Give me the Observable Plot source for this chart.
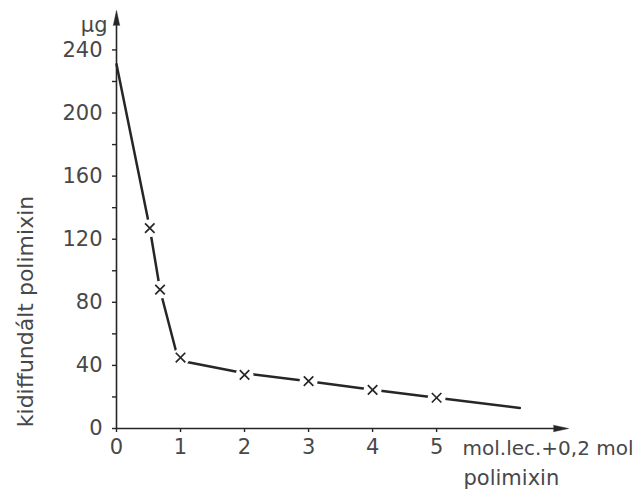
<!DOCTYPE html>
<html><head><meta charset="utf-8">
<script src="https://cdn.jsdelivr.net/npm/d3@7"></script>
<script src="https://cdn.jsdelivr.net/npm/@observablehq/plot@0.6"></script>
<style>body{margin:0;background:#fff}</style>
</head><body><div id="chart"></div>
<script>
const lineX = [0, 0.52, 0.68, 0.93, 1.0, 2, 3, 4, 5, 6.3];
const lineY = [231, 127, 88, 49, 43, 35, 30, 24.5, 19.5, 13];
const ptX = [0.52, 0.68, 1, 2, 3, 4, 5];
const ptY = [127, 88, 45, 34, 30, 24.5, 19.5];
const yMajor = [0, 40, 80, 120, 160, 200, 240];
const yMinor = [20, 60, 100, 140, 180, 220];
const xTicks = [0, 1, 2, 3, 4, 5];
const yUnit = "µg";
const yLabel = "kidiffundált polimixin";
const xLabel1 = "mol.lec.+0,2 mol";
const xLabel2 = "polimixin";

const line = lineX.map((x, i) => ({x, y: lineY[i]}));
const pts = ptX.map((x, i) => ({x, y: ptY[i]}));
const ink = "#262626", txt = "#484848";
const font = "DejaVu Sans";

const chart = Plot.plot({
  width: 638, height: 494,
  marginLeft: 116, marginRight: 70, marginTop: 10, marginBottom: 66,
  style: {fontFamily: font, fontSize: "21px", color: txt, background: "#fff"},
  x: {domain: [0, 7.06], axis: null},
  y: {domain: [0, 265], axis: null},
  marks: [
    Plot.ruleX([0], {y1: 0, y2: 258, stroke: ink, strokeWidth: 1.6}),
    Plot.ruleY([0], {x1: 0, x2: 6.9, stroke: ink, strokeWidth: 1.6}),
    Plot.vector([{x: 0, y: 265}], {x: "x", y: "y", anchor: "end", shape: "spike", length: 15, r: 3.2, fill: ink, stroke: ink, strokeWidth: 0.5, rotate: 0}),
    Plot.vector([{x: 7.06, y: 0}], {x: "x", y: "y", anchor: "end", shape: "spike", length: 15, r: 3.2, fill: ink, stroke: ink, strokeWidth: 0.5, rotate: 90}),
    Plot.axisY(yMajor, {tickSize: 4, tickPadding: 10, stroke: ink, fill: txt, fontSize: 21, label: null, strokeWidth: 1.4}),
    Plot.axisY(yMinor, {tickSize: 4, text: null, stroke: ink, label: null, strokeWidth: 1.4}),
    Plot.axisX(xTicks, {tickSize: 4, tickPadding: 7, stroke: ink, fill: txt, fontSize: 21, label: null, strokeWidth: 1.4}),
    Plot.line(line, {x: "x", y: "y", stroke: ink, strokeWidth: 2.5}),
    Plot.dot(pts, {x: "x", y: "y", r: 9, fill: "white", fillOpacity: 1}),
    Plot.dot(pts, {x: "x", y: "y", symbol: "times", r: 4.4, stroke: ink, strokeWidth: 1.7}),
    Plot.text([yUnit], {frameAnchor: "top-left", lineAnchor: "middle", dx: -9, dy: 15, textAnchor: "end", fill: txt, fontSize: 21}),
    Plot.text([yLabel], {frameAnchor: "left", lineAnchor: "middle", textAnchor: "middle", dx: -91, dy: 92, rotate: -90, fill: txt, fontSize: 22}),
    Plot.text([xLabel1], {frameAnchor: "bottom-right", lineAnchor: "middle", dx: -106, dy: 20, textAnchor: "start", fill: txt, fontSize: 20, letterSpacing: "-0.3px"}),
    Plot.text([xLabel2], {frameAnchor: "bottom-right", lineAnchor: "middle", dx: -105, dy: 50, textAnchor: "start", fill: txt, fontSize: 21})
  ]
});
document.getElementById("chart").appendChild(chart);
</script></body></html>
